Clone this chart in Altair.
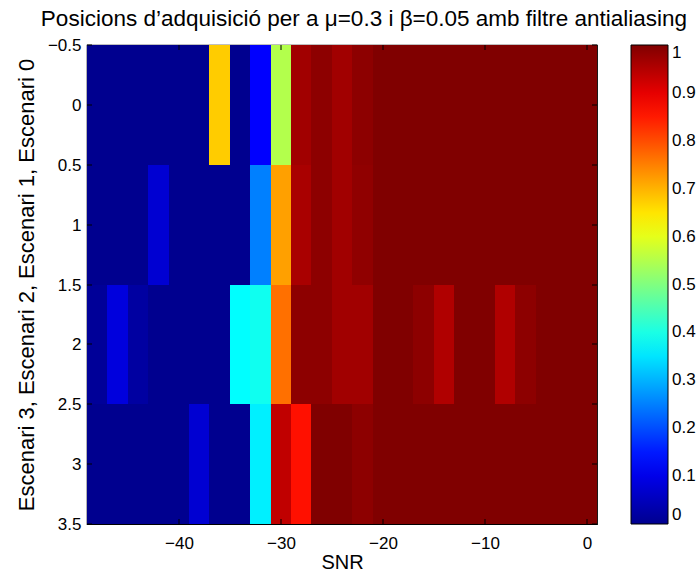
import altair as alt
import pandas as pd

# ---- data ----
snr = [-48, -46, -44, -42, -40, -38, -36, -34, -32, -30, -28, -26, -24,
       -22, -20, -18, -16, -14, -12, -10, -8, -6, -4, -2, 0]

escenari_0 = [0, 0, 0, 0, 0, 0, 0.675, 0, 0.125, 0.55, 0.968, 0.987, 0.968,
              0.987, 1, 1, 1, 1, 1, 1, 1, 1, 1, 1, 1]
escenari_1 = [0, 0, 0, 0.075, 0, 0, 0, 0, 0.25, 0.718, 0.96, 0.987, 0.968,
              0.984, 1, 1, 1, 1, 1, 1, 1, 1, 1, 1, 1]
escenari_2 = [0.01, 0.0875, 0.02, 0, 0, 0, 0, 0.375, 0.39, 0.765, 0.987, 0.987, 0.968,
              0.968, 1, 1, 0.987, 0.953, 1, 1, 0.953, 0.987, 1, 1, 1]
escenari_3 = [0, 0, 0, 0, 0, 0.075, 0, 0, 0.36, 0.9375, 0.859, 1, 1,
              0.987, 1, 1, 1, 1, 1, 1, 1, 1, 1, 1, 1]

x_ticks = [-40, -30, -20, -10, 0]
y_ticks = [-0.5, 0, 0.5, 1, 1.5, 2, 2.5, 3, 3.5]
cbar_ticks = [0, 0.1, 0.2, 0.3, 0.4, 0.5, 0.6, 0.7, 0.8, 0.9, 1]

W, H = 510, 479
FONT = "Liberation Sans"

records = []
for r, row in enumerate([escenari_0, escenari_1, escenari_2, escenari_3]):
    for s, v in zip(snr, row):
        records.append({"snr": s, "esc": r, "p": v})
df = pd.DataFrame(records)

jet_domain = [0, 0.125, 0.375, 0.625, 0.875, 1]
jet_range = ["#00008F", "#0000FF", "#00FFFF", "#FFFF00", "#FF0000", "#800000"]
color_scale = alt.Scale(domain=jet_domain, range=jet_range, interpolate="rgb")

xscale = alt.Scale(domain=[-49, 1], nice=False, zero=False, round=True)
yscale = alt.Scale(domain=[-0.5, 3.5], nice=False, zero=False, reverse=True, round=True)

xaxis = alt.Axis(title="SNR", values=x_ticks, format="d", ticks=False, domain=False,
                 grid=False, labelFontSize=17, titleFontSize=20, labelPadding=11,
                 titlePadding=1, labelFont=FONT, titleFont=FONT,
                 titleFontWeight="normal", labelColor="black", titleColor="black")
yaxis = alt.Axis(title="Escenari 3, Escenari 2, Escenari 1, Escenari 0",
                 values=y_ticks, format=".1~f", ticks=False, domain=False, grid=False,
                 labelFontSize=17, titleFontSize=22, labelPadding=6, titlePadding=9,
                 labelFont=FONT, titleFont=FONT, titleFontWeight="normal",
                 labelColor="black", titleColor="black")

legend = alt.Legend(title=None, type="gradient", orient="none", legendX=W + 34, legendY=0,
                    direction="vertical", gradientLength=H, gradientThickness=37,
                    gradientStrokeColor="black", gradientStrokeWidth=1,
                    values=cbar_ticks, format=".1~f", labelFontSize=17,
                    labelFont=FONT, labelColor="black", labelOffset=4,
                    labelOverlap=False, labelBaseline="middle")

heat = alt.Chart(df).transform_calculate(
    x0="datum.snr - 1", x1="datum.snr + 1",
    y0="datum.esc - 0.5", y1="datum.esc + 0.5"
).mark_rect().encode(
    x=alt.X("x0:Q", scale=xscale, axis=xaxis),
    x2="x1:Q",
    y=alt.Y("y0:Q", scale=yscale, axis=yaxis),
    y2="y1:Q",
    color=alt.Color("p:Q", scale=color_scale, legend=legend),
)

df_xt = pd.DataFrame({"t": x_ticks})
df_yt = pd.DataFrame({"t": y_ticks})

xt_bottom = alt.Chart(df_xt).mark_rule(color="black", strokeWidth=1).encode(
    x=alt.X("t:Q", scale=xscale, axis=xaxis), y=alt.value(H), y2=alt.value(H - 5))
xt_top = alt.Chart(df_xt).mark_rule(color="black", strokeWidth=1).encode(
    x=alt.X("t:Q", scale=xscale, axis=xaxis), y=alt.value(0), y2=alt.value(5))
yt_left = alt.Chart(df_yt).mark_rule(color="black", strokeWidth=1).encode(
    y=alt.Y("t:Q", scale=yscale, axis=yaxis), x=alt.value(0), x2=alt.value(5))
yt_right = alt.Chart(df_yt).mark_rule(color="black", strokeWidth=1).encode(
    y=alt.Y("t:Q", scale=yscale, axis=yaxis), x=alt.value(W), x2=alt.value(W - 5))

chart = alt.layer(heat, xt_bottom, xt_top, yt_left, yt_right).properties(
    width=W, height=H,
    title=alt.TitleParams(
        text="Posicions d’adquisició per a μ=0.3 i β=0.05 amb filtre antialiasing",
        fontSize=22.5, font=FONT, fontWeight="normal", color="black",
        anchor="middle", dx=22, offset=6),
    autosize=alt.AutoSizeParams(type="none"),
    padding={"left": 87, "top": 45, "right": 103, "bottom": 48},
    background="white",
).configure_view(stroke="black", strokeWidth=1.2)

chart.save("out.html", embed_options={"renderer": "svg", "actions": False})
